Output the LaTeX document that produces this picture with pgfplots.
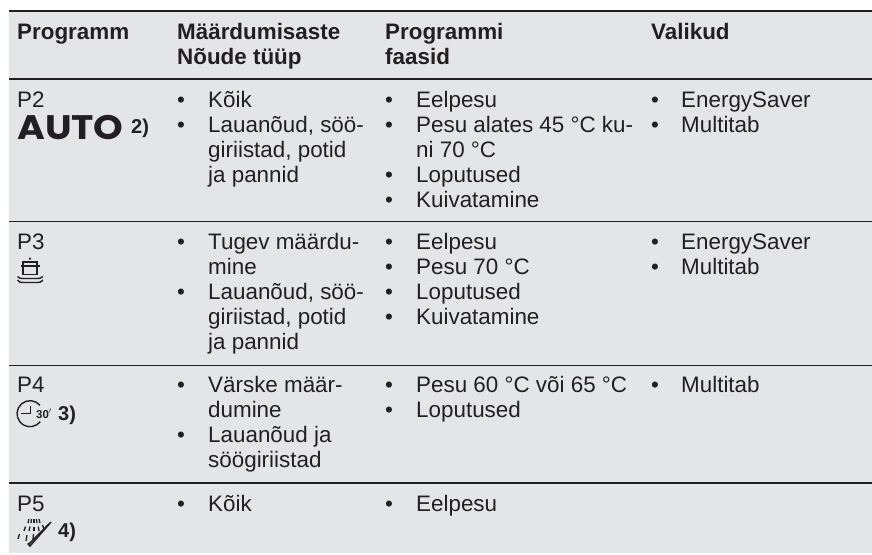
\documentclass[border=0pt]{standalone}
\usepackage{fontspec}
\setmainfont{Liberation Sans}
\newfontfamily\autofont{Poppins}
\usepackage{pgfplots}
\pgfplotsset{compat=1.18}
\definecolor{bg}{HTML}{E4E5E7}
\definecolor{ink}{HTML}{231F20}
\newcommand{\T}[3]{\node[anchor=base west,inner sep=0pt,text=ink] at (axis cs:#1,#2) {#3};}
\begin{document}
\begin{tikzpicture}
\begin{axis}[
  x=1pt,y=-1pt,xmin=0,xmax=872,ymin=0,ymax=554,
  axis lines=none,clip=false,scale only axis,
  width=872pt,height=554pt,
  at={(0,0)},anchor=south west,
]
\fontsize{22.4}{25}\selectfont
\addplot[draw=none,fill=bg] coordinates {(9,11) (872,11) (872,553) (9,553)} \closedcycle;
\addplot[draw=ink,line width=2.6pt] coordinates {(9,11) (872,11)};
\addplot[draw=ink,line width=2.2pt] coordinates {(9,79) (872,79)};
\addplot[draw=ink,line width=1.4pt] coordinates {(9,221.5) (872,221.5)};
\addplot[draw=ink,line width=1.7pt] coordinates {(9,365.5) (872,365.5)};
\addplot[draw=ink,line width=2pt] coordinates {(9,483) (872,483)};
% header
\T{17}{39}{\bfseries Programm}
\T{177}{39}{\bfseries Määrdumisaste}
\T{177}{64}{\bfseries Nõude tüüp}
\T{385}{39}{\bfseries Programmi}
\T{385}{64}{\bfseries faasid}
\T{651}{39}{\bfseries Valikud}
% P2
\T{17}{107}{P2}
\node[anchor=base west,inner sep=0pt,text=ink,xscale=1.11] at (axis cs:17,139) {\autofont\bfseries\fontsize{34}{34}\selectfont AUTO};
\T{131}{133}{\bfseries\fontsize{20}{20}\selectfont 2)}
\T{177}{107}{•}\T{208}{107}{Kõik}
\T{177}{132}{•}\T{208}{132}{Lauanõud, söö-}
\T{208}{157}{giriistad, potid}
\T{208}{182}{ja pannid}
\T{385}{107}{•}\T{416}{107}{Eelpesu}
\T{385}{132}{•}\T{416}{132}{Pesu alates 45 °C ku-}
\T{416}{157}{ni 70 °C}
\T{385}{182}{•}\T{416}{182}{Loputused}
\T{385}{207}{•}\T{416}{207}{Kuivatamine}
\T{651}{107}{•}\T{681}{107}{EnergySaver}
\T{651}{132}{•}\T{681}{132}{Multitab}
% P3
\T{17}{249}{P3}
\T{177}{249}{•}\T{208}{249}{Tugev määrdu-}
\T{208}{274}{mine}
\T{177}{299}{•}\T{208}{299}{Lauanõud, söö-}
\T{208}{324}{giriistad, potid}
\T{208}{349}{ja pannid}
\T{385}{249}{•}\T{416}{249}{Eelpesu}
\T{385}{274}{•}\T{416}{274}{Pesu 70 °C}
\T{385}{299}{•}\T{416}{299}{Loputused}
\T{385}{324}{•}\T{416}{324}{Kuivatamine}
\T{651}{249}{•}\T{681}{249}{EnergySaver}
\T{651}{274}{•}\T{681}{274}{Multitab}
% pot icon
\draw[ink,line width=1.3pt] (axis cs:23,266) -- (axis cs:23,262) -- (axis cs:37,262) -- (axis cs:37,266);
\draw[ink,line width=1.5pt] (axis cs:20.5,266) -- (axis cs:40,266);
\draw[ink,line width=1.5pt] (axis cs:23,266) -- (axis cs:23,274.5) -- (axis cs:37,274.5) -- (axis cs:37,266);
\fill[ink] (axis cs:30,258.6) circle (1.2pt);
\draw[ink,line width=1.4pt] (axis cs:17.5,276.5) .. controls (axis cs:20,278.5) .. (axis cs:23,278.5) -- (axis cs:37,278.5) .. controls (axis cs:40,278.5) .. (axis cs:43,276.5);
\draw[ink,line width=1.4pt] (axis cs:17.5,280) .. controls (axis cs:20,282.5) .. (axis cs:23,282.5) -- (axis cs:37,282.5) .. controls (axis cs:40,282.5) .. (axis cs:43,280);
% P4
\T{17}{392}{P4}
\T{177}{392}{•}\T{208}{392}{Värske määr-}
\T{208}{417}{dumine}
\T{177}{442}{•}\T{208}{442}{Lauanõud ja}
\T{208}{467}{söögiriistad}
\T{385}{392}{•}\T{416}{392}{Pesu 60 °C või 65 °C}
\T{385}{417}{•}\T{416}{417}{Loputused}
\T{651}{392}{•}\T{681}{392}{Multitab}
% clock icon
\draw[ink,line width=1.4pt] (axis cs:40,405.3) arc[start angle=40,end angle=322,radius=13pt];
\draw[ink,line width=1.4pt] (axis cs:20.5,413.5) -- (axis cs:30.7,413.5) -- (axis cs:30.7,406);
\T{36}{418}{\bfseries\fontsize{11.5}{11.5}\selectfont 30$'$}
\T{58}{420}{\bfseries\fontsize{20}{20}\selectfont 3)}
% P5
\T{17}{511}{P5}
\T{177}{511}{•}\T{208}{511}{Kõik}
\T{385}{511}{•}\T{416}{511}{Eelpesu}
% spray icon
\draw[ink,line width=1.5pt] (axis cs:28,545) -- (axis cs:49,524);
\draw[ink,line width=1.5pt] (axis cs:28,543) -- (axis cs:30,546) -- (axis cs:51,522);
\begin{scope}[line width=1.3pt,ink]
\draw (axis cs:28,523) -- (axis cs:29,519);
\draw (axis cs:31,523) -- (axis cs:31.5,519);
\draw (axis cs:34,523) -- (axis cs:34,519);
\draw (axis cs:37,523) -- (axis cs:36.5,519);
\draw (axis cs:40,523) -- (axis cs:39,519);
\draw (axis cs:24,531) -- (axis cs:25.5,526.5);
\draw (axis cs:29,531) -- (axis cs:30,526.5);
\draw (axis cs:34,531) -- (axis cs:34,526.5);
\draw (axis cs:39,531) -- (axis cs:38.3,526.5);
\draw (axis cs:44,529) -- (axis cs:42.5,525);
\draw (axis cs:18,539) -- (axis cs:19.5,534);
\draw (axis cs:26,541) -- (axis cs:27,535);
\draw (axis cs:33,540) -- (axis cs:33.5,534);
\end{scope}
\T{58}{537}{\bfseries\fontsize{20}{20}\selectfont 4)}
\end{axis}
\pgfresetboundingbox
\path[use as bounding box] (0,0) rectangle (872pt,554pt);
\end{tikzpicture}
\end{document}
